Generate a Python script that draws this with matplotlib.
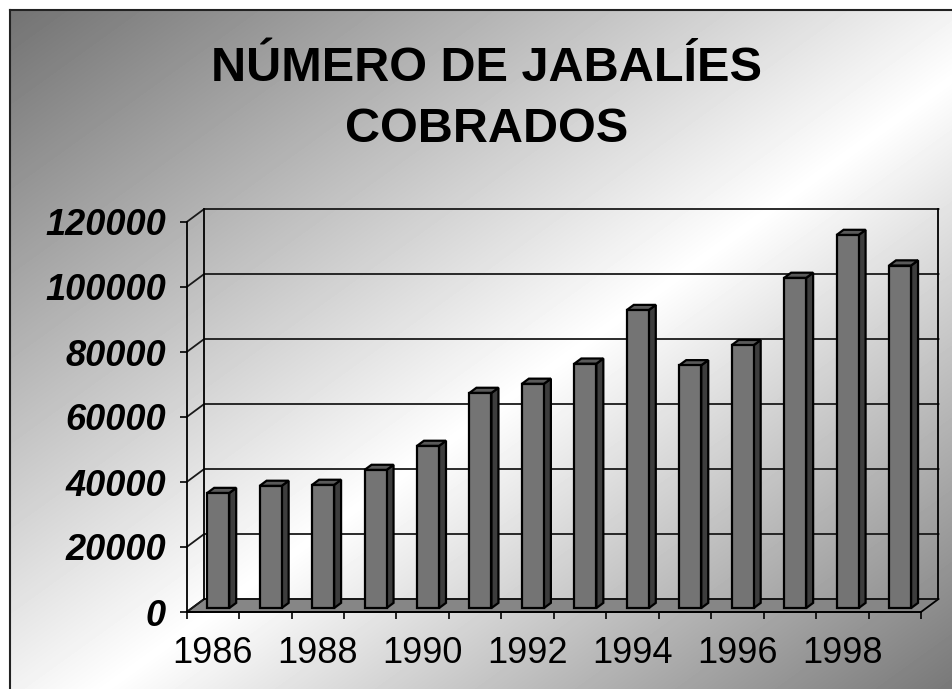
import numpy as np
import matplotlib
matplotlib.use("Agg")
import matplotlib.pyplot as plt
from matplotlib.patches import Polygon

# data
years = list(range(1986, 2000))
jabalies = [35400, 37600, 37900, 42500, 49900, 66200, 69000,
            75200, 91700, 74700, 80900, 101600, 114800, 105400]
year_labels = ["1986", "1988", "1990", "1992", "1994", "1996", "1998"]
y_ticks = [0, 20000, 40000, 60000, 80000, 100000, 120000]
title_lines = ["NÚMERO DE JABALÍES", "COBRADOS"]

W, H = 953, 689
plt.rcParams['font.family'] = ['Liberation Sans', 'DejaVu Sans']

fig = plt.figure(figsize=(W / 100, H / 100), dpi=100)

# background: diagonal grey -> white -> grey gradient inside a black frame
bg = fig.add_axes([0, 0, 1, 1])
yy, xx = np.mgrid[0:H, 0:W]
t = ((xx - 10) / (W - 10) + (yy - 10) / (H - 10)) / 2
shade = np.interp(t, [0, 0.55, 1.0], [0.45, 1.0, 0.47])
shade[(xx < 10) | (yy < 10)] = 1.0
bg.imshow(shade, cmap="gray", vmin=0, vmax=1, extent=(0, W, H, 0),
          interpolation="bilinear", aspect="auto")
bg.plot([10, 10], [10, H], color="#222222", lw=1.5)
bg.plot([10, W], [10, 10], color="#222222", lw=1.5)
bg.set_xlim(0, W)
bg.set_ylim(H, 0)
bg.axis("off")

# title
fig.text(487 / W, 1 - 81 / H, title_lines[0], ha="center", va="baseline",
         fontsize=35, fontweight="bold")
fig.text(487 / W, 1 - 142 / H, title_lines[1], ha="center", va="baseline",
         fontsize=35, fontweight="bold")

# front plane of the 3d box
x_left, x_right, y_bot, y_top = 186.7, 921.0, 612.0, 222.0
ax = fig.add_axes([x_left / W, 1 - y_bot / H,
                   (x_right - x_left) / W, (y_bot - y_top) / H])
ax.patch.set_alpha(0)
n = len(years)
ymax = y_ticks[-1]
ax.set_xlim(0, n)
ax.set_ylim(0, ymax)

# depth vector in data units
DX = 17.5 / ((x_right - x_left) / n)
DY = 13.0 * ymax / (y_bot - y_top)

lw = 1.3
floor = Polygon([(0, 0), (n, 0), (n + DX, DY), (DX, DY)], closed=True,
                facecolor="#868686", edgecolor="black", lw=lw, clip_on=False, zorder=1)
ax.add_patch(floor)

for v in y_ticks:
    ax.plot([0, DX, n + DX], [v, v + DY, v + DY], color="#1a1a1a", lw=lw,
            clip_on=False, zorder=2)
ax.plot([DX, DX], [DY, ymax + DY], color="black", lw=lw, clip_on=False, zorder=2)
ax.plot([n + DX, n + DX], [DY, ymax + DY], color="black", lw=lw, clip_on=False, zorder=2)

# bars as 3d boxes
bw = 0.42
d0, d1 = 0.3, 0.7
for i, v in enumerate(jabalies):
    c = i + 0.5
    x0, x1 = c - bw / 2, c + bw / 2
    ox0, oy0 = d0 * DX, d0 * DY
    ox1, oy1 = d1 * DX, d1 * DY
    front = [(x0 + ox0, oy0), (x1 + ox0, oy0), (x1 + ox0, v + oy0), (x0 + ox0, v + oy0)]
    side = [(x1 + ox0, oy0), (x1 + ox1, oy1), (x1 + ox1, v + oy1), (x1 + ox0, v + oy0)]
    top = [(x0 + ox0, v + oy0), (x1 + ox0, v + oy0), (x1 + ox1, v + oy1), (x0 + ox1, v + oy1)]
    for pts, col in ((side, "#3d3d3d"), (top, "#5a5a5a"), (front, "#747474")):
        ax.add_patch(Polygon(pts, closed=True, facecolor=col, edgecolor="black",
                             lw=1.6, joinstyle="miter", clip_on=False, zorder=3 + i * 0.01))

# axes lines and ticks
for s in ("top", "right"):
    ax.spines[s].set_visible(False)
for s in ("left", "bottom"):
    ax.spines[s].set_linewidth(lw)
    ax.spines[s].set_zorder(5)

ax.set_yticks(y_ticks)
ax.set_yticklabels([str(v) for v in y_ticks], fontsize=26,
                   fontweight="bold", fontstyle="italic")
ax.tick_params(axis="y", length=5, width=1.2, pad=10)

ax.set_xticks(range(n + 1))
ax.set_xticklabels([])
ax.set_xticks([i + 0.5 for i in range(0, n, 2)], minor=True)
ax.set_xticklabels(year_labels, minor=True, fontsize=26)
ax.tick_params(axis="x", which="major", length=5, width=1.2)
ax.tick_params(axis="x", which="minor", length=0, pad=17)

fig.savefig("out.png", dpi=100)
